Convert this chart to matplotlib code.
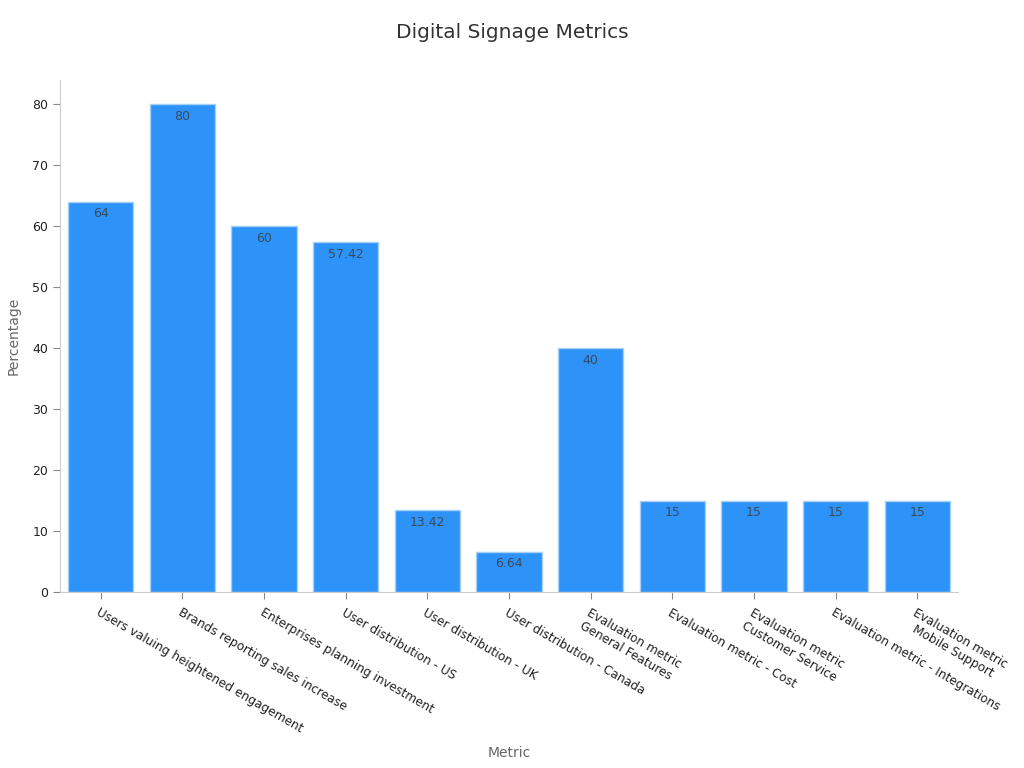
import matplotlib.pyplot as plt

# Chart data
metrics = [
    "Users valuing heightened engagement",
    "Brands reporting sales increase",
    "Enterprises planning investment",
    "User distribution - US",
    "User distribution - UK",
    "User distribution - Canada",
    "Evaluation metric\nGeneral Features",
    "Evaluation metric - Cost",
    "Evaluation metric\nCustomer Service",
    "Evaluation metric - Integrations",
    "Evaluation metric\nMobile Support",
]
values = [64, 80, 60, 57.42, 13.42, 6.64, 40, 15, 15, 15, 15]
value_labels = ["64", "80", "60", "57.42", "13.42", "6.64", "40", "15", "15", "15", "15"]

fig = plt.figure(figsize=(10.24, 7.68), dpi=100)
ax = fig.add_axes([0.0586, 0.2292, 0.877, 0.6666])

x = list(range(len(metrics)))
bars = ax.bar(x, values, width=0.8, color="#2e93f8", edgecolor="#a8d0f7", linewidth=1)

# Value labels just inside the top of each bar
for b, lbl in zip(bars, value_labels):
    ax.annotate(lbl, (b.get_x() + b.get_width() / 2, b.get_height()),
                xytext=(0, -4), textcoords="offset points",
                ha="center", va="top", fontsize=9, color="#3a4a5c")

ax.set_xlim(-0.5, 10.5)
ax.set_ylim(0, 84)
ax.set_yticks([0, 10, 20, 30, 40, 50, 60, 70, 80])
ax.set_xticks(x)
ax.set_xticklabels(metrics, rotation=-30, ha="left", rotation_mode="anchor",
                   fontsize=8.7, color="#222222", multialignment="center")
ax.tick_params(axis="y", labelsize=9, colors="#222222")
ax.tick_params(axis="both", color="#888888", length=5)
ax.tick_params(axis="x", pad=5)

for side in ["top", "right"]:
    ax.spines[side].set_visible(False)
for side in ["left", "bottom"]:
    ax.spines[side].set_color("#cccccc")

ax.set_xlabel("Metric", fontsize=10, color="#666666")
ax.set_ylabel("Percentage", fontsize=10, color="#666666", labelpad=8)
ax.xaxis.set_label_coords(0.5, -0.30)
fig.suptitle("Digital Signage Metrics", fontsize=14.5, color="#333333", y=0.97)

plt.savefig("out.png", dpi=100)
plt.close()
